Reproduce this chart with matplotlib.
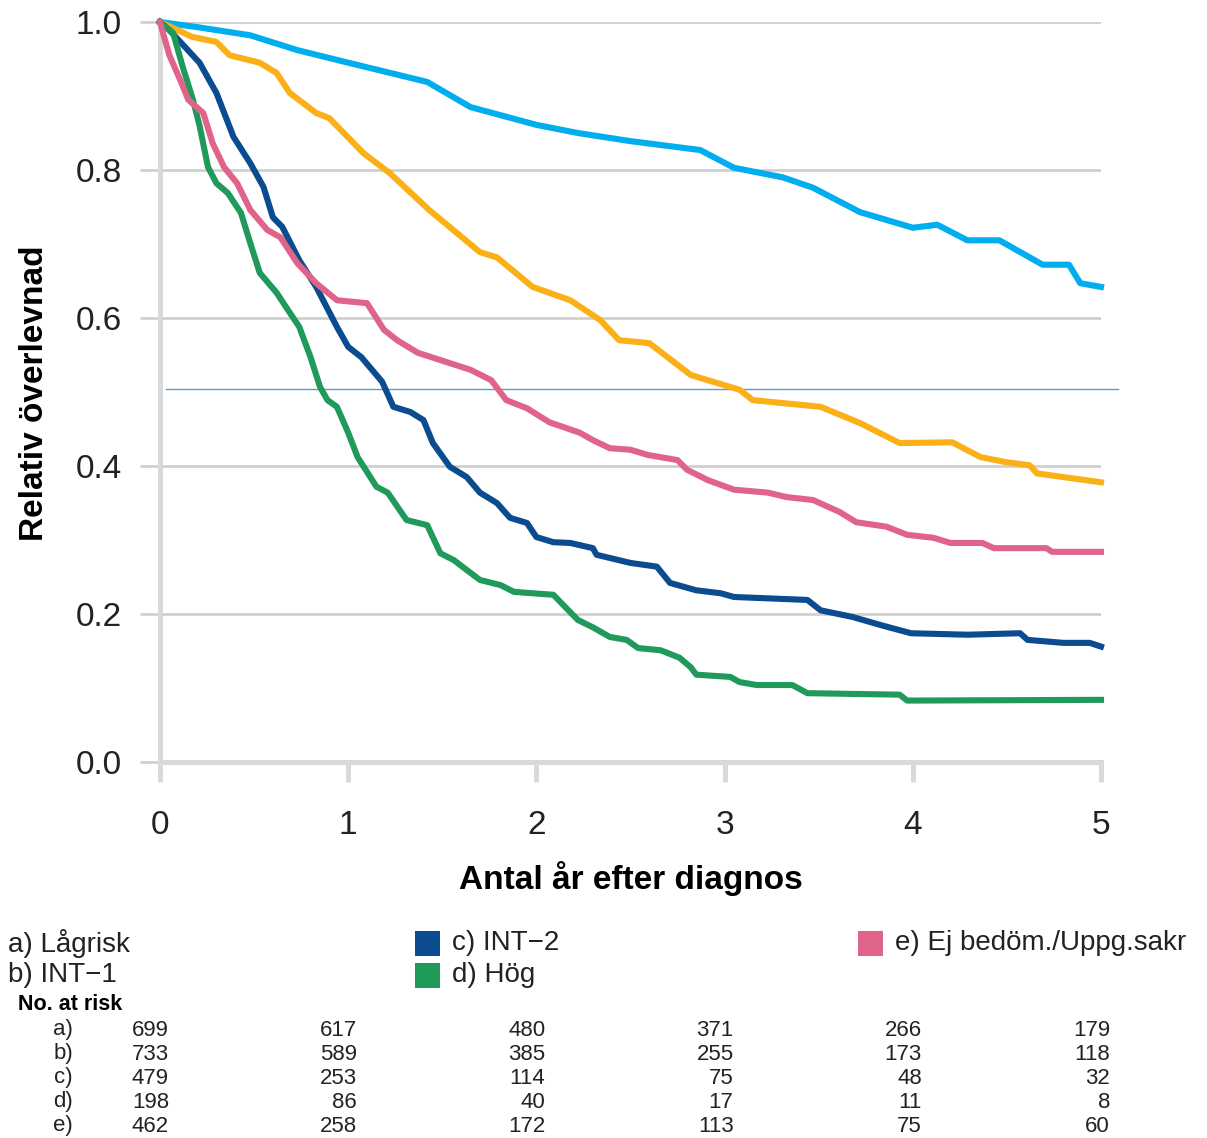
import matplotlib
matplotlib.use("Agg")
import matplotlib.pyplot as plt
from matplotlib.patches import Rectangle
from matplotlib.transforms import blended_transform_factory, offset_copy

plt.rcParams["font.family"] = ["Liberation Sans", "DejaVu Sans"]

# Survival curves (years after diagnosis, relative survival)
t_lagrisk = [0, 0.2, 0.48, 0.73, 1.0, 1.42, 1.65, 2.0, 2.22, 2.5, 2.87, 3.05, 3.31, 3.47,
             3.72, 4.0, 4.13, 4.29, 4.46, 4.69, 4.83, 4.89, 5.0]
s_lagrisk = [1.0, 0.993, 0.982, 0.962, 0.945, 0.919, 0.885, 0.861, 0.85, 0.839, 0.827, 0.803,
             0.79, 0.776, 0.743, 0.722, 0.726, 0.705, 0.705, 0.672, 0.672, 0.647, 0.642]

t_int1 = [0, 0.17, 0.3, 0.37, 0.53, 0.62, 0.69, 0.83, 0.9, 1.08, 1.22, 1.43, 1.7, 1.79, 1.98,
          2.18, 2.34, 2.44, 2.6, 2.82, 3.08, 3.15, 3.51, 3.72, 3.93, 4.21, 4.36, 4.5, 4.62,
          4.66, 5.0]
s_int1 = [1.0, 0.98, 0.973, 0.955, 0.945, 0.931, 0.904, 0.877, 0.87, 0.823, 0.796, 0.746,
          0.689, 0.682, 0.642, 0.624, 0.597, 0.570, 0.566, 0.523, 0.503, 0.489, 0.48, 0.458,
          0.431, 0.432, 0.412, 0.405, 0.401, 0.39, 0.378]

t_int2 = [0, 0.05, 0.21, 0.3, 0.39, 0.48, 0.55, 0.6, 0.65, 0.74, 0.83, 0.94, 1.0, 1.07, 1.18,
          1.24, 1.33, 1.4, 1.45, 1.54, 1.63, 1.7, 1.79, 1.86, 1.95, 2.0, 2.09, 2.18, 2.3,
          2.32, 2.5, 2.64, 2.71, 2.85, 2.98, 3.05, 3.44, 3.51, 3.68, 3.83, 3.99, 4.29, 4.57,
          4.61, 4.8, 4.94, 5.0]
s_int2 = [1.0, 0.989, 0.945, 0.904, 0.845, 0.809, 0.777, 0.736, 0.723, 0.678, 0.642, 0.588,
          0.561, 0.547, 0.514, 0.48, 0.473, 0.462, 0.431, 0.399, 0.385, 0.364, 0.35, 0.33,
          0.323, 0.304, 0.297, 0.296, 0.289, 0.28, 0.269, 0.264, 0.242, 0.232, 0.228, 0.223,
          0.219, 0.205, 0.196, 0.185, 0.174, 0.172, 0.174, 0.165, 0.161, 0.161, 0.156]

t_hog = [0, 0.07, 0.12, 0.175, 0.21, 0.255, 0.3, 0.36, 0.43, 0.48, 0.53, 0.62, 0.69, 0.74,
         0.8, 0.85, 0.89, 0.94, 1.0, 1.05, 1.15, 1.21, 1.31, 1.42, 1.49, 1.56, 1.7, 1.81,
         1.88, 1.98, 2.09, 2.22, 2.3, 2.39, 2.48, 2.54, 2.66, 2.76, 2.82, 2.85, 3.03, 3.08,
         3.17, 3.36, 3.44, 3.93, 3.97, 5.0]
s_hog = [1.0, 0.985, 0.94, 0.895, 0.86, 0.804, 0.782, 0.769, 0.742, 0.701, 0.661, 0.634,
         0.607, 0.588, 0.547, 0.507, 0.489, 0.48, 0.445, 0.412, 0.372, 0.364, 0.327, 0.32,
         0.282, 0.273, 0.246, 0.239, 0.23, 0.228, 0.226, 0.192, 0.182, 0.169, 0.165, 0.154,
         0.151, 0.141, 0.128, 0.118, 0.115, 0.108, 0.104, 0.104, 0.093, 0.091, 0.083, 0.084]

t_ej = [0, 0.016, 0.05, 0.11, 0.15, 0.23, 0.28, 0.34, 0.41, 0.48, 0.57, 0.64, 0.73, 0.83,
        0.94, 1.1, 1.19, 1.26, 1.37, 1.54, 1.65, 1.76, 1.84, 1.95, 2.07, 2.23, 2.3, 2.39,
        2.5, 2.59, 2.75, 2.8, 2.91, 3.05, 3.23, 3.33, 3.47, 3.61, 3.7, 3.86, 3.97, 4.11,
        4.2, 4.37, 4.43, 4.71, 4.74, 5.0]
s_ej = [1.0, 0.985, 0.955, 0.92, 0.895, 0.877, 0.836, 0.804, 0.782, 0.746, 0.719, 0.709,
        0.674, 0.647, 0.624, 0.62, 0.584, 0.57, 0.553, 0.539, 0.53, 0.516, 0.489, 0.478,
        0.459, 0.445, 0.435, 0.424, 0.422, 0.415, 0.408, 0.395, 0.381, 0.368, 0.364, 0.358,
        0.354, 0.338, 0.324, 0.318, 0.307, 0.303, 0.296, 0.296, 0.289, 0.289, 0.284, 0.284]

labels = ["a) Lågrisk", "b) INT\u22121", "c) INT\u22122", "d) Hög", "e) Ej bedöm./Uppg.sakr"]
colors = ["#00aeef", "#fbb017", "#0a4c8f", "#1f9a5b", "#e0648a"]

median_level = 0.504

# No. at risk table
risk_years = [0, 1, 2, 3, 4, 5]
risk_rows = ["a)", "b)", "c)", "d)", "e)"]
risk_a = [699, 617, 480, 371, 266, 179]
risk_b = [733, 589, 385, 255, 173, 118]
risk_c = [479, 253, 114, 75, 48, 32]
risk_d = [198, 86, 40, 17, 11, 8]
risk_e = [462, 258, 172, 113, 75, 60]

W, H = 1207, 1138
fig = plt.figure(figsize=(W / 100, H / 100), dpi=100)
ax = fig.add_axes([160 / W, 1 - 762 / H, 941 / W, 740 / H])

series = [(t_lagrisk, s_lagrisk), (t_int1, s_int1), (t_int2, s_int2), (t_hog, s_hog), (t_ej, s_ej)]
for (t, s), c in zip(series, colors):
    ax.plot(t, s, color=c, lw=4.4, clip_on=False, zorder=3, solid_joinstyle="round")

ax.plot([0.03, 5.09], [median_level, median_level], color="#5b9bd5", lw=1.0, clip_on=False, zorder=2)

ax.set_xlim(0, 5)
ax.set_ylim(0, 1)
ax.set_xticks(risk_years)
ax.set_xticklabels([str(y) for y in risk_years])
ax.set_yticks([0, 0.2, 0.4, 0.6, 0.8, 1.0])
ax.set_yticklabels(["0.0", "0.2", "0.4", "0.6", "0.8", "1.0"])
ax.yaxis.grid(True, color="#d0d0d0", lw=2)
ax.set_axisbelow(True)
for side in ["top", "right"]:
    ax.spines[side].set_visible(False)
for side in ["left", "bottom"]:
    ax.spines[side].set_color("#d9d9d9")
    ax.spines[side].set_linewidth(3.6)
ax.tick_params(axis="x", length=14.4, width=3.6, color="#d9d9d9", pad=20, labelsize=24, labelcolor="#222222")
ax.tick_params(axis="y", length=14.4, width=2, color="#d0d0d0", pad=13, labelsize=24, labelcolor="#222222")

fig.text(35 / W, 1 - 393 / H, "Relativ överlevnad", rotation=90, ha="center", va="center",
         fontsize=24, fontweight="bold")
fig.text(631 / W, 1 - 878 / H, "Antal år efter diagnos", ha="center", va="center",
         fontsize=24, fontweight="bold")

# Legend
legend_pos = [(8, 943, False), (8, 975, False), (415, 943, True), (415, 975, True), (858, 943, True)]
for (x, y, patch), lab, c in zip(legend_pos, labels, colors):
    tx = x
    if patch:
        fig.patches.append(Rectangle((x / W, 1 - (y + 12.5) / H), 25 / W, 25 / H,
                                     transform=fig.transFigure, facecolor=c, edgecolor="none"))
        tx = x + 37
    fig.text(tx / W, 1 - y / H, lab, ha="left", va="center", fontsize=20, color="#222222")

# Number at risk
fig.text(18 / W, 1 - 1005 / H, "No. at risk", ha="left", va="center", fontsize=15.5, fontweight="bold")
blend = blended_transform_factory(ax.transData, fig.transFigure)
blend = offset_copy(blend, fig=fig, x=9, y=0, units="dots")
for i, (row, vals) in enumerate(zip(risk_rows, [risk_a, risk_b, risk_c, risk_d, risk_e])):
    y = 1 - (1030 + 24 * i) / H
    fig.text(73 / W, y, row, ha="right", va="center", fontsize=16, color="#222222")
    for yr, v in zip(risk_years, vals):
        ax.text(yr, y, str(v), transform=blend, ha="right", va="center", fontsize=16, color="#222222")

fig.savefig("out.png", dpi=100)
